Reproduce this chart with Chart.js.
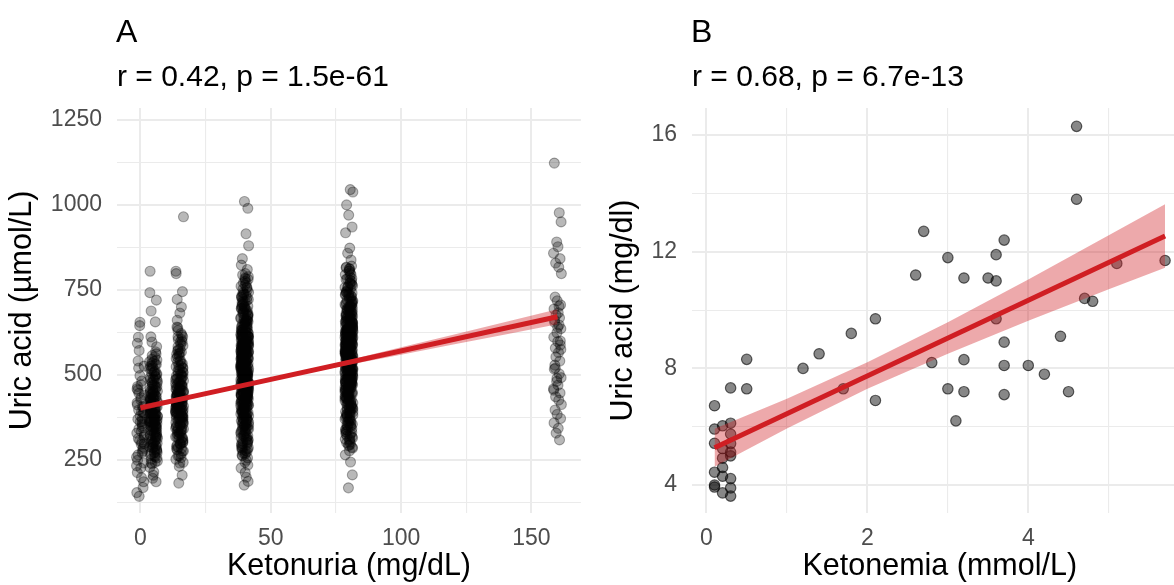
<!DOCTYPE html>
<html>
<head>
<meta charset="utf-8">
<script src="https://cdn.jsdelivr.net/npm/chart.js@4.4.1/dist/chart.umd.min.js"></script>
<style>
  html, body { margin: 0; padding: 0; background: #fff; overflow: hidden; width: 1174px; height: 585px; }
  #wrap { position: relative; width: 1174px; height: 585px; overflow: hidden; }
  canvas { position: absolute; top: 0; }
  #cA { left: 0; }
  #cB { left: 587px; }
</style>
</head>
<body>
<div id="wrap">
  <canvas id="cA" width="587" height="585"></canvas>
  <canvas id="cB" width="607" height="585"></canvas>
</div>
<script>
const FONT = "'Liberation Sans', Arial, Helvetica, sans-serif";
const RED = '#d01e23';
const BAND = 'rgba(208,30,35,0.38)';
const GRID = '#ebebeb';
const TICK = '#4d4d4d';

// ---------- Panel A: uric acid (µmol/L) by urine ketone dipstick level ----------
const ketonuriaLevels = [0, 5, 15, 40, 80, 160];

const uricAt0 = [412, 356, 298, 645, 471, 233, 388, 520, 302, 441, 265, 379, 186, 459, 334, 572, 407, 249, 363, 318,
  498, 154, 427, 287, 611, 392, 341, 276, 455, 213, 372, 526, 308, 433, 258, 169, 397, 482, 323, 541,
  362, 241, 418, 296, 143, 351, 466, 271, 389, 655, 329, 226, 404, 313, 198, 446, 282, 370, 593, 345];

const uricAt5 = [402, 455, 318, 521, 377, 289, 436, 362, 498, 247, 415, 339, 583, 392, 271, 468, 351, 426, 305, 544,
  381, 228, 447, 366, 296, 509, 421, 333, 612, 388, 259, 476, 345, 431, 312, 562, 397, 281, 452, 370,
  205, 488, 409, 326, 535, 384, 263, 441, 357, 299, 742, 419, 348, 517, 374, 238, 463, 395, 322, 656,
  406, 285, 484, 361, 437, 308, 553, 379, 252, 429, 341, 805, 471, 392, 318, 526, 403, 276, 449, 366,
  215, 501, 413, 331, 597, 386, 268, 458, 353, 423, 294, 540, 372, 186, 444, 359, 313, 688, 398, 279,
  492, 417, 337, 568, 383, 243, 465, 355, 428, 301, 720, 390, 273, 479, 347, 410, 324, 531, 368, 196,
  438, 364, 290, 505, 400,
  418, 337, 489, 282, 451, 366, 527, 309, 432, 394, 256, 471, 353, 508, 325, 442, 381, 546, 292, 419,
  362, 495, 271, 437, 346, 519, 404, 303, 466, 378, 241, 453, 330, 486, 397, 557, 316, 425, 369, 503,
  287, 446, 358, 531, 409, 261, 476, 340, 427, 390, 512, 299, 458, 372, 539, 321, 415, 385, 482, 348];

const uricAt15 = [432, 487, 356, 561, 401, 318, 468, 389, 527, 276, 445, 372, 612, 418, 297, 503, 380, 456, 335, 586,
  410, 252, 478, 393, 326, 542, 451, 363, 641, 415, 284, 507, 371, 460, 343, 598, 426, 307, 483, 399,
  231, 521, 437, 352, 574, 412, 289, 470, 386, 330, 805, 449, 375, 553, 404, 262, 494, 421, 347, 700,
  433, 312, 515, 391, 466, 338, 590, 408, 280, 459, 369, 798, 501, 423, 345, 561, 430, 302, 479, 395,
  241, 533, 442, 358, 631, 414, 293, 489, 382, 452, 322, 576, 401, 205, 474, 387, 341, 722, 427, 306,
  524, 446, 365, 604, 411, 268, 496, 383, 458, 328, 745, 419, 298, 511, 376, 440, 350, 567, 397, 182,
  469, 392, 315, 538, 428, 965, 661, 463, 379, 548, 436, 287, 499, 403, 257, 520, 448, 360, 682, 421,
  334, 485, 407, 617, 442, 373,
  455, 362, 528, 297, 486, 403, 571, 336, 447, 419, 262, 509, 381, 597, 344, 472, 415, 622, 309, 438,
  389, 541, 276, 463, 367, 583, 426, 318, 497, 398, 243, 518, 353, 475, 431, 639, 327, 452, 384, 556,
  301, 467, 372, 604, 421, 283, 502, 359, 444, 407, 565, 315, 489, 392, 612, 338, 436, 410, 533, 375];

const uricAt40 = [512, 438, 603, 377, 551, 466, 689, 402, 529, 341, 587, 455, 623, 398, 502, 716, 428, 561, 313, 479,
  648, 421, 535, 367, 592, 487, 742, 443, 518, 286, 607, 461, 553, 389, 668, 495, 412, 578, 352, 523,
  636, 449, 504, 271, 587, 470, 703, 431, 546, 382, 615, 458, 526, 339, 661, 486, 407, 571, 298, 539,
  594, 452, 782, 416, 508, 363, 629, 476, 555, 326, 677, 440, 517, 395, 601, 482, 249, 563, 425, 531,
  654, 467, 587, 354, 496, 728, 419, 542, 309, 612, 473, 569, 385, 641, 504, 437, 589, 262, 520, 446,
  696, 491, 558, 372, 617, 462, 533, 401, 761, 480, 575, 346, 626, 497, 434, 548, 293, 664, 511, 423,
  598, 469, 810, 391, 537, 455, 632, 318, 505, 583, 442, 709, 488, 561, 368, 614, 476, 527, 404, 256,
  651, 499, 572, 433, 540, 336, 685, 464, 596, 412, 522, 749, 451, 567, 379, 620, 490, 235, 548, 427,
  603, 474, 531, 357, 673, 507, 441, 585, 301, 556, 638, 484, 518, 396, 580, 459, 722, 418, 544, 331,
  610, 469, 592, 361, 502, 694, 436, 559, 278, 527, 645, 492, 574, 410, 536, 447, 785, 478, 608, 344,
  515, 660, 426, 551, 383, 597, 462, 213, 530, 488, 627, 454, 569, 375, 700, 498, 439, 578, 322, 543,
  592, 471, 657, 405, 521, 350, 616, 483, 735, 448, 563, 392, 633, 509, 430, 586, 267, 547, 476, 681,
  915, 880, 842, 1010, 990, 823, 798, 771, 756, 733, 199, 187, 176, 226, 243, 282, 305, 329, 358, 371,
  501, 535, 465, 612, 549, 487, 569, 443, 590, 516, 478, 624, 529, 457, 603, 494, 576, 421, 640, 505,
  553, 482, 587, 414, 666, 534, 468, 596, 387, 521, 611, 445, 548, 493, 574, 409, 633, 512, 460, 585,
  284, 531, 702, 365, 619, 447, 758, 392, 563, 310, 684, 476, 597, 341, 722, 508, 427, 651, 279, 575,
  463, 789, 384, 540, 666, 302, 611, 495, 743, 356, 582, 417, 695, 528, 270, 639, 454, 771, 389, 568,
  327, 716, 501, 608, 437, 682, 295, 553, 729, 406, 623, 348, 764, 485, 591, 372, 657, 519, 290, 701,
  444, 566, 337, 735, 469, 604, 396, 679, 522, 315, 647, 458, 794, 378, 586, 503, 713, 424, 559, 286,
  668, 491, 620, 349, 752, 538, 411, 696, 475, 321, 631, 557, 381, 719, 449, 594, 307, 662, 516, 776,
  433, 578, 362, 688, 497, 264, 643, 413, 567, 739, 386, 524, 659, 298, 602, 470, 707, 352, 588, 441,
  694, 529, 317, 626, 461, 781, 399, 573, 334, 675, 510, 419, 636, 275, 547, 728, 481, 613, 369, 656];

const uricAt80 = [556, 478, 642, 417, 593, 505, 731, 446, 570, 382, 627, 492, 665, 436, 541, 758, 463, 602, 351, 518,
  689, 457, 575, 403, 634, 527, 783, 484, 559, 326, 648, 499, 594, 428, 707, 537, 452, 619, 391, 565,
  676, 488, 546, 311, 628, 510, 744, 469, 587, 421, 657, 497, 567, 377, 701, 525, 446, 612, 339, 580,
  636, 491, 812, 455, 549, 402, 671, 515, 597, 365, 718, 479, 558, 434, 643, 522, 296, 605, 466, 572,
  694, 508, 628, 393, 537, 768, 458, 583, 348, 653, 514, 611, 424, 682, 545, 476, 630, 301, 561, 487,
  737, 532, 599, 411, 658, 503, 574, 440, 795, 521, 616, 385, 667, 538, 473, 589, 333, 705, 552, 462,
  639, 510, 820, 430, 578, 494, 673, 357, 546, 624, 483, 749, 529, 602, 407, 655, 517, 568, 443, 318,
  692, 540, 613, 472, 581, 375, 726, 505, 637, 451, 563, 776, 490, 608, 418, 661, 531, 287, 589, 466,
  644, 515, 572, 396, 714, 548, 480, 626, 342, 597, 679, 525, 559, 435, 621, 498, 762, 457, 585, 370,
  651, 508, 633, 400, 543, 735, 475, 600, 320, 568, 686, 533, 615, 449, 577, 486, 806, 517, 649, 383,
  556, 701, 467, 592, 422, 638, 501, 277, 571, 529, 668, 495, 610, 414, 741, 539, 478, 619, 362, 584,
  633, 512, 698, 444, 562, 389, 657, 524, 770, 489, 604, 431, 674, 550, 471, 627, 308, 588, 517, 720,
  1045, 1038, 1000, 970, 935, 918, 873, 858, 838, 815, 244, 206, 168, 265, 293, 331, 353, 372, 398, 412,
  546, 579, 505, 652, 590, 528, 610, 482, 631, 557, 519, 665, 570, 498, 644, 535, 617, 462, 681, 547,
  594, 523, 628, 455, 707, 575, 509, 637, 428, 562, 652, 486, 589, 534, 615, 450, 674, 553, 501, 626,
  603, 372, 741, 518, 659, 446, 795, 563, 327, 688, 491, 617, 404, 766, 549, 302, 634, 475, 712, 589,
  358, 673, 527, 806, 431, 596, 694, 389, 555, 742, 462, 621, 340, 703, 580, 509, 781, 418, 647, 293,
  568, 729, 482, 612, 367, 690, 535, 817, 452, 600, 315, 662, 544, 757, 408, 628, 497, 718, 384, 575,
  682, 521, 789, 439, 609, 332, 698, 560, 470, 735, 399, 643, 515, 770, 351, 590, 676, 488, 621, 285,
  557, 724, 463, 655, 380, 800, 538, 615, 425, 709, 496, 584, 345, 668, 529, 752, 445, 637, 311, 695,
  572, 482, 779, 414, 626, 551, 705, 365, 640, 507, 812, 437, 598, 320, 686, 543, 746, 458, 613, 392,
  666, 526, 731, 477, 578, 355, 700, 563, 432, 784, 501, 652, 337, 715, 586, 469, 633, 403, 760, 547];

const uricAt160 = [1123, 977, 950, 891, 877, 858, 842, 829, 817, 798, 729, 718, 706, 694, 683, 676, 668, 655, 647, 636,
  624, 611, 598, 588, 579, 566, 553, 541, 529, 517, 503, 492, 481, 470, 459, 447, 436, 426, 413, 397,
  384, 372, 359, 343, 329, 309, 661, 702, 575, 490, 455, 640, 600, 520];

// horizontal jitter offsets (mg/dL) applied around each dipstick level
const jitterA = [-1.2, 0.7, 1.4, -0.3, 0.2, -1.5, 1.0, -0.7, 0.5, 1.5, -0.9, -0.1, 1.2, -1.3, 0.3,
  -0.5, 0.8, -1.1, 0.6, 1.3, -0.2, -1.4, 0.1, 1.1, -0.8, 0.4, -0.6, 0.9, -1.0];

// linear fit and its 95% confidence band
const fitAX = [0, 160];
const fitAY = [403, 671];
const bandAX = [0, 20, 40, 60, 80, 100, 120, 140, 160];
const bandALow = [394, 431, 467, 499.5, 529.8, 559.7, 589.5, 619.2, 649];
const bandAHigh = [412, 442, 473, 507.5, 544.2, 581.3, 618.5, 655.8, 693];

const xTicksA = [0, 25, 50, 75, 100, 125, 150];
const xLabelsA = ['0', '', '50', '', '100', '', '150'];
const yTicksA = [125, 250, 375, 500, 625, 750, 875, 1000, 1125, 1250];
const yLabelsA = ['', '250', '', '500', '', '750', '', '1000', '', '1250'];

// ---------- Panel B: uric acid (mg/dl) vs blood ketones ----------
const ketonemia = [0.1, 0.1, 0.1, 0.1, 0.1, 0.1, 0.2, 0.2, 0.2, 0.2, 0.2, 0.2,
  0.3, 0.3, 0.3, 0.3, 0.3, 0.3, 0.3, 0.3, 0.3, 0.5, 0.5,
  1.2, 1.4, 1.7, 1.8, 2.1, 2.1, 2.8, 3.0, 3.2, 3.2, 3.1, 3.6, 3.7, 3.7, 3.7, 4.0, 4.2, 4.4, 4.5, 4.7,
  4.8, 4.6, 4.6, 2.7, 3.7, 3.0, 3.6, 2.6, 3.2, 3.5, 3.6, 5.1, 5.7];
const uricB = [6.72, 5.92, 5.43, 4.44, 4.0, 3.93, 6.03, 5.25, 4.92, 4.6, 4.3, 3.73,
  7.33, 6.12, 5.75, 5.42, 5.13, 5.0, 4.22, 3.9, 3.62, 8.31, 7.3,
  8.0, 8.5, 7.3, 9.2, 9.7, 6.9, 8.2, 7.3, 8.3, 7.2, 6.2, 9.7, 8.9, 8.1, 7.1, 8.1, 7.8, 9.1, 7.2, 10.4,
  10.3, 16.3, 13.8, 12.7, 12.4, 11.8, 11.9, 11.2, 11.1, 11.1, 11.0, 11.6, 11.7];

const fitBX = [0.1, 5.7];
const fitBY = [5.28, 12.54];
const bandBX = [0.1, 1, 2, 3, 4, 5, 5.7];
const bandBLow = [4.63, 5.94, 7.30, 8.50, 9.63, 10.71, 11.45];
const bandBHigh = [5.93, 6.96, 8.21, 9.58, 11.05, 12.57, 13.63];

const xTicksB = [0, 1, 2, 3, 4, 5];
const xLabelsB = ['0', '', '2', '', '4', ''];
const yTicksB = [4, 6, 8, 10, 12, 14, 16];
const yLabelsB = ['4', '', '8', '', '12', '', '16'];

// ---------- helpers ----------
const pairs = (xs, ys) => xs.map((x, i) => ({ x, y: ys[i] }));

const pointsA = [];
[uricAt0, uricAt5, uricAt15, uricAt40, uricAt80, uricAt160].forEach((col, c) => {
  col.forEach((v, i) => pointsA.push({ x: ketonuriaLevels[c] + jitterA[i % jitterA.length], y: v }));
});

// panel letter and correlation line above the plotting area
const panelHeading = {
  id: 'panelHeading',
  afterDraw(chart, args, opts) {
    const { ctx, chartArea } = chart;
    ctx.save();
    ctx.fillStyle = '#000';
    ctx.textAlign = 'left';
    ctx.textBaseline = 'alphabetic';
    ctx.font = '32px ' + FONT;
    ctx.fillText(opts.letter, chartArea.left - 1, 42);
    ctx.font = '30px ' + FONT;
    ctx.fillText(opts.sub, chartArea.left, 86);
    ctx.restore();
  }
};
Chart.register(panelHeading);

function axis(min, max, ticks, labels, size, title, titlePad, isX) {
  return {
    type: 'linear', min, max,
    border: { display: false },
    grid: {
      color: GRID,
      drawTicks: false,
      lineWidth: ctx => (labels[ctx.index] ? 2 : 1.1)
    },
    ticks: {
      autoSkip: false, maxRotation: 0, minRotation: 0,
      padding: isX ? 12 : 15,
      color: TICK,
      font: { family: FONT, size: 23 },
      callback: (v, i) => labels[i]
    },
    afterBuildTicks: s => { s.ticks = ticks.map(v => ({ value: v })); },
    afterFit: s => { if (isX) s.height = size; else s.width = size; },
    title: {
      display: true, text: title, color: '#000',
      font: { family: FONT, size: 30.5 },
      padding: { top: titlePad, bottom: 0 }
    }
  };
}

function makePanel(id, p) {
  return new Chart(document.getElementById(id), {
    type: 'scatter',
    data: {
      datasets: [
        { type: 'line', data: p.fit, borderColor: RED, borderWidth: 5, borderCapStyle: 'butt',
          pointRadius: 0, fill: false, order: 0 },
        { type: 'line', data: p.low, borderColor: 'rgba(0,0,0,0)', borderWidth: 1,
          pointRadius: 0, fill: false, order: 1 },
        { type: 'line', data: p.high, borderColor: 'rgba(0,0,0,0)', borderWidth: 1,
          pointRadius: 0, fill: '-1', backgroundColor: BAND, order: 1 },
        { data: p.points, pointRadius: p.r, pointBackgroundColor: p.fill, pointBorderColor: p.stroke,
          pointBorderWidth: p.bw, order: 2 }
      ]
    },
    options: {
      responsive: false, animation: false, devicePixelRatio: 1, events: [],
      layout: { padding: { left: 0, right: 4, top: 108, bottom: 0 } },
      plugins: {
        legend: { display: false },
        tooltip: { enabled: false },
        panelHeading: { letter: p.letter, sub: p.sub }
      },
      scales: {
        x: axis(p.xMin, p.xMax, p.xTicks, p.xLabels, 72, p.xTitle, 0, true),
        y: axis(p.yMin, p.yMax, p.yTicks, p.yLabels, p.yWidth, p.yTitle, p.yTitlePad, false)
      }
    }
  });
}

makePanel('cA', {
  letter: 'A', sub: 'r = 0.42, p = 1.5e-61',
  points: pointsA, r: 5, fill: 'rgba(0,0,0,0.28)', stroke: 'rgba(0,0,0,0.32)', bw: 1.1,
  fit: pairs(fitAX, fitAY), low: pairs(bandAX, bandALow), high: pairs(bandAX, bandAHigh),
  xMin: -9, xMax: 169, xTicks: xTicksA, xLabels: xLabelsA, xTitle: 'Ketonuria (mg/dL)',
  yMin: 94, yMax: 1285, yTicks: yTicksA, yLabels: yLabelsA, yTitle: 'Uric acid (µmol/L)',
  yWidth: 117, yTitlePad: 4.7
});

makePanel('cB', {
  letter: 'B', sub: 'r = 0.68, p = 6.7e-13',
  points: pairs(ketonemia, uricB), r: 5.2, fill: 'rgba(0,0,0,0.47)', stroke: 'rgba(0,0,0,0.6)', bw: 1.2,
  fit: pairs(fitBX, fitBY), low: pairs(bandBX, bandBLow), high: pairs(bandBX, bandBHigh),
  xMin: -0.18, xMax: 5.98, xTicks: xTicksB, xLabels: xLabelsB, xTitle: 'Ketonemia (mmol/L)',
  yMin: 3.04, yMax: 16.93, yTicks: yTicksB, yLabels: yLabelsB, yTitle: 'Uric acid (mg/dl)',
  yWidth: 105, yTitlePad: 18.7
});
</script>
</body>
</html>
